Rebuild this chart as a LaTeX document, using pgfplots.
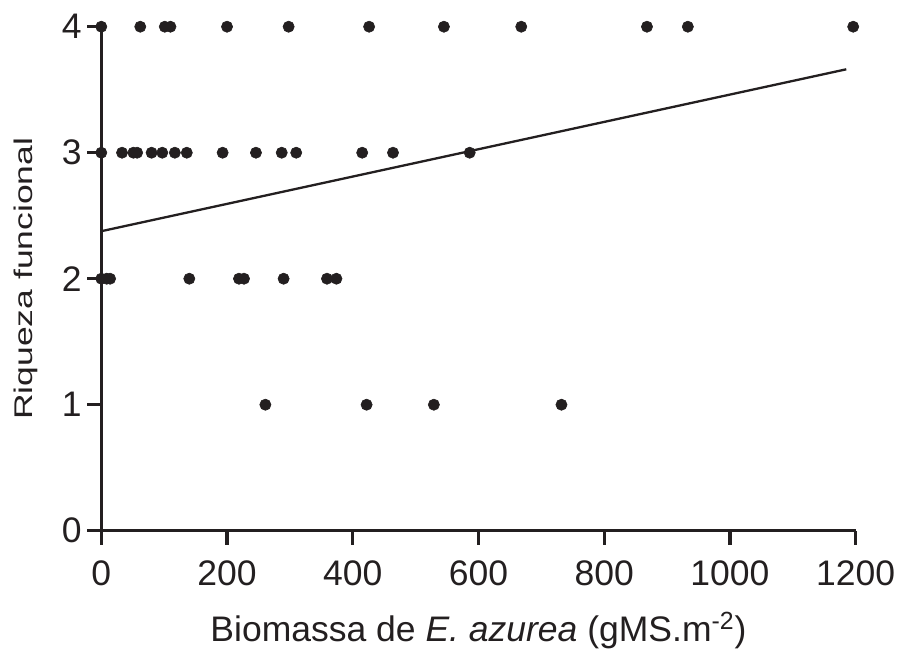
\documentclass[border=0pt]{standalone}
\usepackage{fontspec}
\setmainfont{Liberation Sans}
\usepackage{graphicx}
\usepackage{pgfplots}
\pgfplotsset{compat=1.18}
\definecolor{ink}{RGB}{35,31,32}

\begin{document}
\fontsize{17.75pt}{21pt}\selectfont
\begin{tikzpicture}
\useasboundingbox (-50.65pt,-59.65pt) rectangle (399.85pt,265.35pt);
\begin{axis}[
    at={(0,0)}, anchor=south west,
    scale only axis, width=377.2pt, height=252pt,
    xmin=0, xmax=1200, ymin=0, ymax=4,
    axis lines*=left,
    axis line style={line width=1.6pt, ink},
    tick align=outside, major tick length=7pt,
    every tick/.style={line width=1.6pt, ink},
    xtick={0,200,...,1200}, ytick={0,1,2,3,4},
    minor tick num=0,
    tick label style={font=\fontsize{17.75pt}{21pt}\selectfont, inner sep=0pt, text=ink},
    xticklabel style={yshift=-7.65pt},
    yticklabel style={xshift=-2.6pt},
    /pgf/number format/assume math mode=true,
    /pgf/number format/1000 sep={},
    scaled ticks=false,
    clip=false,
    xlabel={Biomassa de \textit{E. azurea} (gMS.m\textsuperscript{-2})},
    xlabel style={at={(axis description cs:0.5,-0.2202)}, anchor=base, inner sep=0pt, text=ink},
    ylabel={\scalebox{1}[0.72]{Riqueza funcional}},
    ylabel style={at={(axis description cs:-0.0918,0.5)}, anchor=base, inner sep=0pt, text=ink},
]
% observed points
\addplot[only marks, mark=*, mark size=2.8pt, mark options={ink, fill=ink, line width=0.3pt}] coordinates {
    (0,4) (62,4) (101,4) (110,4) (200,4) (298,4) (426,4) (545,4) (668,4) (868,4) (933,4) (1196,4)
    (0,3) (33,3) (51,3) (57,3) (80,3) (97,3) (117,3) (136,3) (193,3) (246,3) (287,3) (310,3) (415,3) (464,3) (586,3)
    (0,2) (8.6,2) (14,2) (140,2) (219,2) (227,2) (290,2) (359,2) (374,2)
    (261,1) (422,1) (529,1) (732,1)
};
% fitted line
\addplot[ink, line width=1.15pt] coordinates {(0,2.377) (1185,3.662)};
\end{axis}
\end{tikzpicture}
\end{document}
